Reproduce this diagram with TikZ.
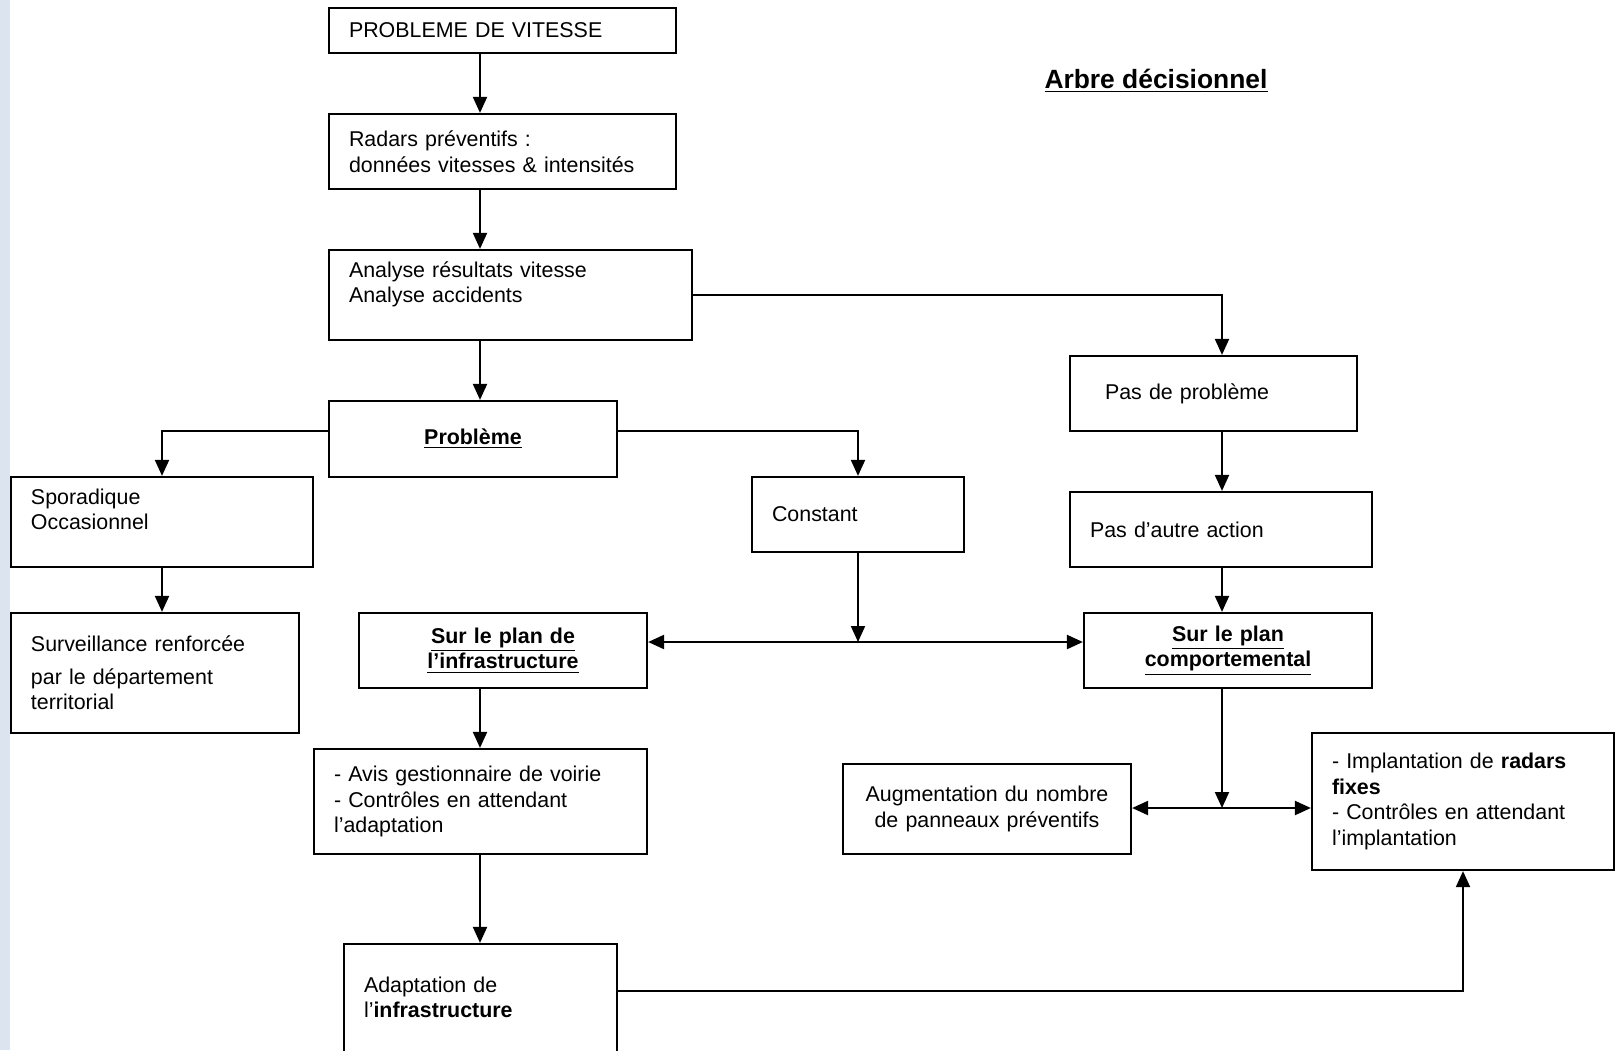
\documentclass[tikz,border=0pt]{standalone}
\usepackage{fontspec}
\setmainfont{Liberation Sans}
\usetikzlibrary{arrows.meta}
\definecolor{stripblue}{HTML}{DCE4EF}

\begin{document}
\begin{tikzpicture}[
    x=0.5pt, y=-0.5pt,
    box/.style={draw=black, rectangle, line width=1.1pt, inner xsep=10pt, inner ysep=0pt,
                align=left, font=\fontsize{10.7pt}{12.8pt}\selectfont},
    keybox/.style={box, align=center, font=\fontsize{10.7pt}{12.8pt}\selectfont\bfseries},
    arrow/.style={-{Triangle[length=8pt,width=7pt]}, line width=1pt},
    dblarrow/.style={{Triangle[length=8pt,width=7pt]}-{Triangle[length=8pt,width=7pt]}, line width=1.1pt}
]

%% ---- PAGE FRAME ----
\useasboundingbox (0,0) rectangle (1622,1050);
\clip (0,0) rectangle (1622,1050);
\fill [stripblue] (0,0) rectangle (10,1050);

%% ---- TITLE ----
\node [font=\fontsize{13.2pt}{16pt}\selectfont\bfseries] (title) at (1156,81) {\underline{Arbre décisionnel}};

%% ---- MAIN COLUMN (x=480 spine) ----
\node [box, text width=153.5pt, minimum height=22.5pt] (vitesse)  at (502.5, 30.5) {PROBLEME DE VITESSE};
\node [box, text width=153.5pt, minimum height=37.5pt] (radars)   at (502.5,151.5) {Radars préventifs :\\données vitesses \& intensités};
\node [box, text width=161.5pt, minimum height=45pt]   (analyse)  at (510.5,295)   {Analyse résultats vitesse\\Analyse accidents\\~};
\node [keybox, text width=124pt, minimum height=38pt]  (probleme) at (473,439)     {\underline{Problème}};

%% ---- LEFT BRANCH ----
\node [box, text width=131pt, minimum height=45pt]     (sporadique)   at (162,522) {Sporadique\\Occasionnel\\~};
\node [box, text width=124pt, minimum height=60pt]     (surveillance) at (155,673) {Surveillance renforcée\\[3.5pt]par le département\\territorial};

%% ---- INFRASTRUCTURE BRANCH ----
\node [box, text width=86pt, minimum height=37.5pt]    (constant) at (858,514.5)  {Constant};
\node [keybox, text width=124pt, minimum height=37.5pt] (infra)   at (503,650.5)  {\underline{Sur le plan de}\\\underline{l’infrastructure}};
\node [box, text width=146.5pt, minimum height=52.5pt] (avis)     at (480.5,801.5) {- Avis gestionnaire de voirie\\- Contrôles en attendant\\l’adaptation};
\node [box, text width=116.5pt, minimum height=66pt]   (adapt)    at (480.5,1010) {Adaptation de\\l’\textbf{infrastructure}\\~};

%% ---- RIGHT BRANCH (x=1222 spine) ----
\node [box, text width=123.5pt, minimum height=37.5pt] (pasprob)  at (1213.5,393.5) {\hspace*{7.5pt}Pas de problème};
\node [box, text width=131pt, minimum height=37.5pt]   (pasautre) at (1221,529.5)   {Pas d’autre action};
\node [keybox, text width=124pt, minimum height=37.5pt] (comport) at (1228,650.5)   {\underline{Sur le plan}\\\underline{comportemental}};
\node [box, align=center, text width=124pt, minimum height=45pt] (augment) at (987,809) {Augmentation du nombre\\de panneaux préventifs};
\node [box, text width=131pt, minimum height=68.5pt]   (implant)  at (1463,801.5)   {- Implantation de \textbf{radars}\\\textbf{fixes}\\- Contrôles en attendant\\l’implantation};

%% ---- JUNCTIONS ----
\coordinate (spine)    at (480,0);
\coordinate (rspine)   at (1222,0);
\coordinate (midjoin)  at (858,642);
\coordinate (lowjoin)  at (1222,808);

%% ---- MAIN COLUMN ARROWS ----
\draw [arrow] (vitesse.south -| spine) -- (radars.north -| spine);
\draw [arrow] (radars.south -| spine)  -- (analyse.north -| spine);
\draw [arrow] (analyse.south -| spine) -- (probleme.north -| spine);

%% ---- BRANCHES FROM PROBLEME ----
\draw [arrow] ([yshift=4pt]probleme.west) -| (sporadique.north);
\draw [arrow] ([yshift=4pt]probleme.east) -| (constant.north);
\draw [arrow] (sporadique.south) -- (sporadique.south |- surveillance.north);

%% ---- RIGHT BRANCH ARROWS ----
\draw [arrow] (analyse.east) -| (pasprob.north -| rspine);
\draw [arrow] (pasprob.south -| rspine)  -- (pasautre.north -| rspine);
\draw [arrow] (pasautre.south -| rspine) -- (comport.north -| rspine);

%% ---- CONSTANT: both plans ----
\draw [dblarrow] (infra.east |- midjoin) -- (comport.west |- midjoin);
\draw [arrow] (constant.south) -- (midjoin);

%% ---- INFRASTRUCTURE ARROWS ----
\draw [arrow] (infra.south -| spine) -- (avis.north -| spine);
\draw [arrow] (avis.south -| spine)  -- (adapt.north -| spine);

%% ---- BEHAVIOUR ARROWS ----
\draw [dblarrow] (augment.east |- lowjoin) -- (implant.west |- lowjoin);
\draw [arrow] (comport.south -| rspine) -- (lowjoin);

%% ---- ADAPTATION feeds fixed radars ----
\draw [arrow] ([yshift=9.5pt]adapt.east) -| (implant.south);

\end{tikzpicture}
\end{document}
